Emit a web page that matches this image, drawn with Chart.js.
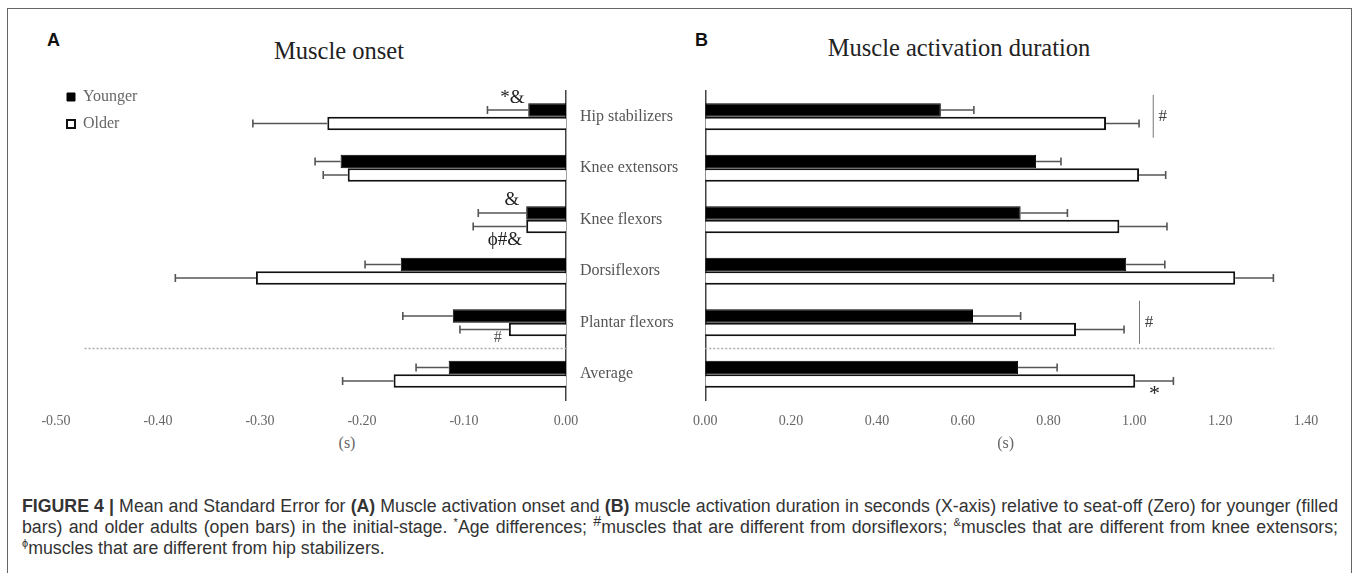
<!DOCTYPE html>
<html>
<head>
<meta charset="utf-8">
<script src="https://cdn.jsdelivr.net/npm/chart.js@4.4.1/dist/chart.umd.min.js"></script>
<style>
body { margin:0; background:#fff; width:1357px; height:573px; overflow:hidden; position:relative; }
#frame { position:absolute; left:7px; top:8px; width:1345px; height:620px; border:1.5px solid #666; box-sizing:border-box; }
canvas { position:absolute; top:0; }
#onset { left:0; }
#duration { left:680px; }
.letter { position:absolute; font:bold 18px "Liberation Sans", Arial, sans-serif; line-height:18px; color:#111; }
.ttl { position:absolute; font:24.5px "Liberation Serif", "Times New Roman", serif; line-height:26px; color:#222; transform:translateX(-50%); white-space:nowrap; }
.unit { position:absolute; font:16px "Liberation Serif", serif; line-height:18px; color:#666; transform:translateX(-50%); }
#caption { position:absolute; left:22px; top:496px; width:1316px; font:16px "Liberation Sans", Arial, sans-serif; line-height:21px; color:#333; }
#caption .ln { white-space:nowrap; }
#caption .j { text-align:justify; text-align-last:justify; }
#caption.measure .j { text-align:left; text-align-last:auto; }
#caption sup { font-size:0.62em; vertical-align:super; line-height:0; }
</style>
</head>
<body>
<div id="frame"></div>
<div class="letter" style="left:47px; top:31px;">A</div>
<div class="letter" style="left:695px; top:31px;">B</div>
<div class="ttl" style="left:339px; top:38px;">Muscle onset</div>
<div class="ttl" style="left:959px; top:35px;">Muscle activation duration</div>
<div class="unit" style="left:347px; top:434px;">(s)</div>
<canvas id="onset" width="700" height="470"></canvas>
<canvas id="duration" width="677" height="470"></canvas>
<div id="caption" class="measure">
<div class="ln j"><span><b>FIGURE 4 |</b> Mean and Standard Error for <b>(A)</b> Muscle activation onset and <b>(B)</b> muscle activation duration in seconds (X-axis) relative to seat-off (Zero) for younger (filled</span></div>
<div class="ln j"><span>bars) and older adults (open bars) in the initial-stage. <sup>*</sup>Age differences; <sup style="font-size:0.8em">#</sup>muscles that are different from dorsiflexors; <sup>&amp;</sup>muscles that are different from knee extensors;</span></div>
<div class="ln"><span><sup>ϕ</sup>muscles that are different from hip stabilizers.</span></div>
</div>
<script>
// data
var categories = ["Hip stabilizers", "Knee extensors", "Knee flexors", "Dorsiflexors", "Plantar flexors", "Average"];
var seriesNames = ["Younger", "Older"];

var onsetYounger = [-0.037, -0.221, -0.039, -0.162, -0.111, -0.115];
var onsetYoungerSE = [0.040, 0.025, 0.047, 0.035, 0.049, 0.032];
var onsetOlder = [-0.234, -0.214, -0.039, -0.304, -0.056, -0.169];
var onsetOlderSE = [0.073, 0.024, 0.052, 0.079, 0.048, 0.050];

var durYounger = [0.549, 0.771, 0.735, 0.981, 0.624, 0.729];
var durYoungerSE = [0.077, 0.058, 0.109, 0.090, 0.111, 0.091];
var durOlder = [0.934, 1.011, 0.965, 1.235, 0.864, 1.002];
var durOlderSE = [0.077, 0.062, 0.111, 0.089, 0.112, 0.089];

var onsetTicks = [-0.5, -0.4, -0.3, -0.2, -0.1, 0];
var durTicks = [0, 0.2, 0.4, 0.6, 0.8, 1.0, 1.2, 1.4];

// significance marks (category index, text, x in data units, pixel offset from category centre)
var onsetMarks = [
    {cat: 0, text: "*&", x: -0.0525, dy: -19},
    {cat: 2, text: "&", x: -0.053, dy: -20},
    {cat: 2, text: "ϕ#&", x: -0.060, dy: 20},
    {cat: 4, text: "#", x: -0.067, dy: 15, size: 16, color: "#555"}
];
var durMarks = [
    {cat: 0, text: "#", x: 1.066, dy: 0, size: 17, color: "#444", bar: 1.044},
    {cat: 4, text: "#", x: 1.034, dy: 0, size: 17, color: "#444", bar: 1.012},
    {cat: 5, text: "*", x: 1.047, dy: 20, size: 22}
];

// caption: fit the font so the longest full line fills the box like the original
(function () {
    var cap = document.getElementById("caption");
    var w = 0;
    cap.querySelectorAll(".j span").forEach(function (s) { w = Math.max(w, s.getBoundingClientRect().width); });
    cap.style.fontSize = (16 * 1312 / w).toFixed(2) + "px";
    cap.classList.remove("measure");
})();

Chart.defaults.font.family = '"Liberation Serif", "Times New Roman", serif';
Chart.defaults.animation = false;

var errorBars = {
    id: "errorBars",
    afterDatasetsDraw: function (chart) {
        var ctx = chart.ctx;
        var xs = chart.scales.x;
        ctx.save();
        ctx.strokeStyle = "#555";
        ctx.lineWidth = 1.6;
        chart.data.datasets.forEach(function (ds, i) {
            var meta = chart.getDatasetMeta(i);
            meta.data.forEach(function (bar, j) {
                var v = ds.data[j];
                var end = v < 0 ? v - ds.se[j] : v + ds.se[j];
                var xe = xs.getPixelForValue(end);
                ctx.beginPath();
                ctx.moveTo(bar.x, bar.y);
                ctx.lineTo(xe, bar.y);
                ctx.moveTo(xe, bar.y - 4);
                ctx.lineTo(xe, bar.y + 4);
                ctx.stroke();
            });
        });
        ctx.restore();
    }
};

var extras = {
    id: "extras",
    afterDraw: function (chart, args, opts) {
        var ctx = chart.ctx;
        var xs = chart.scales.x, ys = chart.scales.y;
        ctx.save();
        // dotted line between the muscles and the average
        var ySep = (ys.getPixelForValue(4) + ys.getPixelForValue(5)) / 2;
        ctx.strokeStyle = "#aaa";
        ctx.lineWidth = 1.5;
        ctx.setLineDash([2, 2]);
        ctx.beginPath();
        ctx.moveTo(xs.getPixelForValue(opts.sepFrom), ySep);
        ctx.lineTo(xs.getPixelForValue(opts.sepTo), ySep);
        ctx.stroke();
        ctx.setLineDash([]);
        opts.marks.forEach(function (m) {
            var yc = ys.getPixelForValue(m.cat);
            if (m.bar !== undefined) {
                ctx.strokeStyle = "#777";
                ctx.lineWidth = 1;
                ctx.beginPath();
                ctx.moveTo(xs.getPixelForValue(m.bar), yc - 22);
                ctx.lineTo(xs.getPixelForValue(m.bar), yc + 21);
                ctx.stroke();
            }
            ctx.fillStyle = m.color || "#222";
            ctx.font = (m.size || 19) + 'px "Liberation Serif", serif';
            ctx.textAlign = "center";
            ctx.textBaseline = "middle";
            ctx.fillText(m.text, xs.getPixelForValue(m.x), yc + m.dy);
        });
        ctx.restore();
    }
};

// put the legend in the top-left corner of the plot
var legendNudge = {
    id: "legendNudge",
    afterLayout: function (chart) {
        var lg = chart.legend;
        if (lg && chart.options.plugins.legend.display) {
            var h = lg.bottom - lg.top;
            lg.top = chart.chartArea.top - 13;
            lg.bottom = lg.top + h;
        }
    }
};

function datasets(young, youngSE, old, oldSE) {
    return [{
        label: seriesNames[0],
        data: young,
        se: youngSE,
        backgroundColor: "#000",
        borderColor: "#000",
        borderWidth: 1
    }, {
        label: seriesNames[1],
        data: old,
        se: oldSE,
        backgroundColor: "#fff",
        borderColor: "#111",
        borderWidth: 2
    }];
}

function fmt(v) { return Number(v).toFixed(2); }

new Chart(document.getElementById("onset"), {
    type: "bar",
    data: { labels: categories, datasets: datasets(onsetYounger, onsetYoungerSE, onsetOlder, onsetOlderSE) },
    plugins: [errorBars, extras, legendNudge],
    options: {
        responsive: false,
        indexAxis: "y",
        categoryPercentage: 0.52,
        barPercentage: 1.0,
        layout: { padding: { left: 56, top: 91, right: 0, bottom: 0 } },
        scales: {
            x: {
                min: -0.5, max: 0,
                afterBuildTicks: function (axis) { axis.ticks = onsetTicks.map(function (v) { return {value: v}; }); },
                afterFit: function (axis) { axis.height = 70; },
                grid: { display: false, drawTicks: false },
                border: { display: false },
                ticks: { callback: fmt, color: "#666", font: { size: 14 }, padding: 13 }
            },
            y: {
                position: "right",
                afterFit: function (axis) { axis.width = 134; },
                grid: { display: false, drawTicks: false },
                border: { display: true, color: "#444", width: 1.5 },
                ticks: { color: "#555", font: { size: 16 }, padding: 14, crossAlign: "near" }
            }
        },
        plugins: {
            legend: {
                position: "chartArea",
                align: "start",
                labels: { boxWidth: 8, boxHeight: 8, padding: 11, color: "#666", font: { size: 16 } }
            },
            tooltip: { enabled: false },
            extras: { sepFrom: -0.472, sepTo: 0, marks: onsetMarks }
        }
    }
});

new Chart(document.getElementById("duration"), {
    type: "bar",
    data: { labels: categories, datasets: datasets(durYounger, durYoungerSE, durOlder, durOlderSE) },
    plugins: [errorBars, extras],
    options: {
        responsive: false,
        indexAxis: "y",
        categoryPercentage: 0.52,
        barPercentage: 1.0,
        layout: { padding: { left: 19, top: 91, right: 51, bottom: 0 } },
        scales: {
            x: {
                min: 0, max: 1.4,
                afterBuildTicks: function (axis) { axis.ticks = durTicks.map(function (v) { return {value: v}; }); },
                afterFit: function (axis) { axis.height = 70; },
                grid: { display: false, drawTicks: false },
                border: { display: false },
                ticks: { callback: fmt, color: "#666", font: { size: 14 }, padding: 13 },
                title: { display: true, text: "(s)", color: "#666", font: { size: 16 }, padding: { top: 0, bottom: 17 } }
            },
            y: {
                position: "left",
                afterFit: function (axis) { axis.width = 0; },
                grid: { display: false, drawTicks: false },
                border: { display: true, color: "#444", width: 1.5 },
                ticks: { display: false }
            }
        },
        plugins: {
            legend: { display: false },
            tooltip: { enabled: false },
            extras: { sepFrom: 0, sepTo: 1.326, marks: durMarks }
        }
    }
});
</script>
</body>
</html>
